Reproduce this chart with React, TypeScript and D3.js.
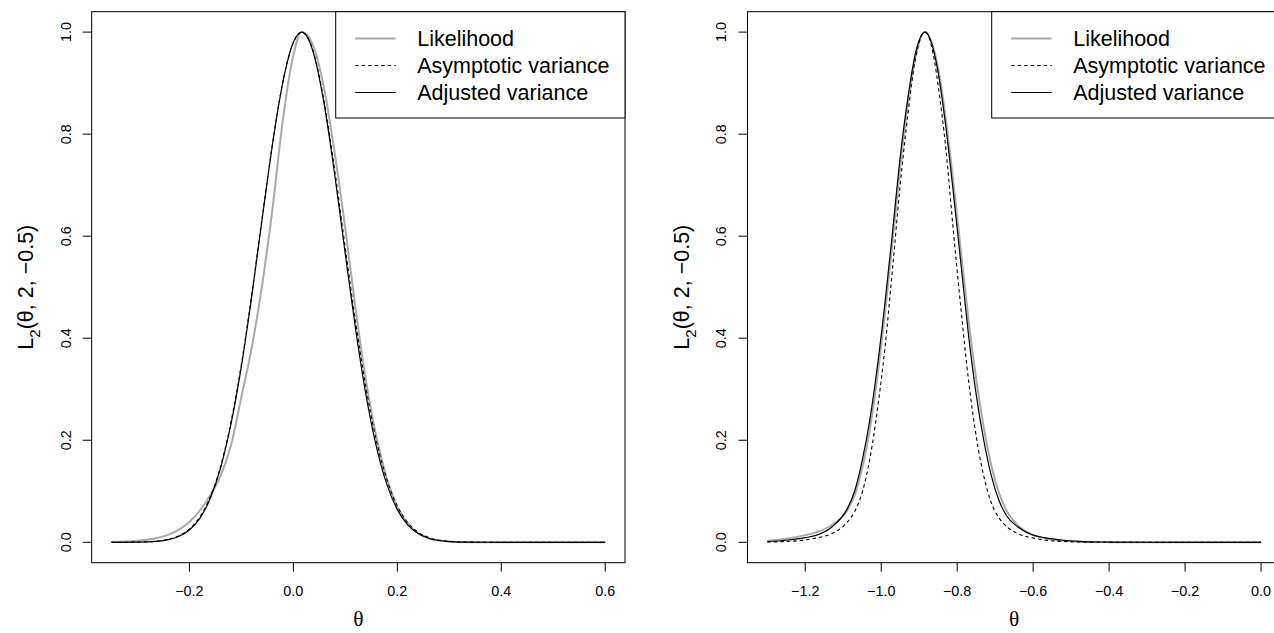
import React from "react";
import * as d3 from "d3";

// ---------- data ----------
const leftTheta = [-0.35, -0.30, -0.26, -0.24, -0.22, -0.20, -0.18, -0.16, -0.14, -0.12, -0.10, -0.08, -0.06, -0.04, -0.02, 0.00, 0.016, 0.03, 0.04, 0.06, 0.08, 0.10, 0.12, 0.14, 0.16, 0.18, 0.20, 0.22, 0.24, 0.26, 0.30, 0.34, 0.40, 0.50, 0.60];
const leftLikelihood = [0.0005, 0.003, 0.009, 0.015, 0.025, 0.040, 0.062, 0.092, 0.130, 0.190, 0.285, 0.382, 0.505, 0.655, 0.830, 0.955, 1.0, 0.990, 0.968, 0.885, 0.760, 0.615, 0.455, 0.315, 0.205, 0.125, 0.070, 0.037, 0.018, 0.008, 0.0015, 0.0003, 0, 0, 0];
const leftAsymptotic = [0.0000, 0.0004, 0.0026, 0.0060, 0.0129, 0.0261, 0.0497, 0.0889, 0.1494, 0.2357, 0.3495, 0.4868, 0.6368, 0.7827, 0.9037, 0.9802, 1.0, 0.9847, 0.9560, 0.8596, 0.7261, 0.5762, 0.4296, 0.3009, 0.1979, 0.1223, 0.0710, 0.0387, 0.0198, 0.0095, 0.0018, 0.0003, 0, 0, 0];
const leftAdjusted = [0.0000, 0.0003, 0.0022, 0.0053, 0.0117, 0.0240, 0.0470, 0.0860, 0.1460, 0.2320, 0.3450, 0.4830, 0.6340, 0.7810, 0.9030, 0.9800, 1.0, 0.9840, 0.9540, 0.8540, 0.7170, 0.5640, 0.4160, 0.2870, 0.1860, 0.1130, 0.0640, 0.0340, 0.0170, 0.0080, 0.0015, 0.0002, 0, 0, 0];

const rightTheta = [-1.30, -1.25, -1.20, -1.17, -1.13, -1.09, -1.07, -1.05, -1.03, -1.01, -0.99, -0.97, -0.95, -0.93, -0.91, -0.885, -0.86, -0.85, -0.83, -0.81, -0.79, -0.77, -0.75, -0.73, -0.71, -0.69, -0.67, -0.64, -0.60, -0.57, -0.52, -0.47, -0.40, -0.30, -0.20, -0.10, 0.00];
const rightLikelihood = [0.003, 0.007, 0.014, 0.020, 0.034, 0.062, 0.092, 0.145, 0.220, 0.325, 0.450, 0.590, 0.735, 0.860, 0.950, 1.0, 0.962, 0.930, 0.830, 0.705, 0.570, 0.435, 0.320, 0.225, 0.150, 0.097, 0.062, 0.033, 0.014, 0.008, 0.003, 0.001, 0.0003, 0, 0, 0, 0];
const rightAsymptotic = [0.0005, 0.0016, 0.0045, 0.0085, 0.017, 0.039, 0.060, 0.098, 0.163, 0.260, 0.382, 0.538, 0.700, 0.837, 0.947, 1.0, 0.945, 0.895, 0.773, 0.610, 0.457, 0.317, 0.208, 0.130, 0.077, 0.048, 0.031, 0.017, 0.0085, 0.0045, 0.0016, 0.0005, 0.0001, 0, 0, 0, 0];
const rightAdjusted = [0.0015, 0.004, 0.009, 0.014, 0.030, 0.065, 0.100, 0.160, 0.240, 0.345, 0.470, 0.610, 0.755, 0.870, 0.958, 1.0, 0.958, 0.920, 0.815, 0.685, 0.545, 0.405, 0.290, 0.200, 0.130, 0.082, 0.052, 0.030, 0.014, 0.009, 0.004, 0.0015, 0.0005, 0.0001, 0, 0, 0];

const yTicks = [0, 0.2, 0.4, 0.6, 0.8, 1.0];
const leftXTicks = [-0.2, 0.0, 0.2, 0.4, 0.6];
const rightXTicks = [-1.2, -1.0, -0.8, -0.6, -0.4, -0.2, 0.0];
const legendLabels = ["Likelihood", "Asymptotic variance", "Adjusted variance"];
const xTitle = "θ";

// ---------- styles ----------
const W = 1274;
const H = 633;
const SANS = "'Liberation Sans', Arial, Helvetica, sans-serif";
const SERIF = "'Liberation Serif', 'DejaVu Serif', serif";
const GREY = "#aaaaaa";
const seriesStyle = [
  { stroke: GREY, width: 2, dash: "" },
  { stroke: "#000", width: 1.1, dash: "3.5,3" },
  { stroke: "#000", width: 1.2, dash: "" },
];
const TICK_FONT = 14.4;
const TITLE_FONT = 21.5;

const fmt = (v: number) => v.toFixed(1).replace("-", "\u2212");

type PanelProps = {
  left: number;
  xDomain: [number, number];
  xTicks: number[];
  theta: number[];
  series: number[][];
  legendLeft: number;
  id: string;
};

function Panel({ left, xDomain, xTicks, theta, series, legendLeft, id }: PanelProps) {
  const plotW = 533.3;
  const top = 11.7;
  const bottom = 562.7;
  const ext = (xDomain[1] - xDomain[0]) * 0.04;
  const x = d3.scaleLinear().domain([xDomain[0] - ext, xDomain[1] + ext]).range([left, left + plotW]);
  const y = d3.scaleLinear().domain([-0.04, 1.04]).range([bottom, top]);
  const line = d3
    .line<number>()
    .x((_, i) => x(theta[i]))
    .y((d) => y(d))
    .curve(d3.curveMonotoneX);
  const tickLen = 9;
  const order = [0, 1, 2];
  const legendTop = top;
  const legendBottom = 118;
  const rowY = [38.5, 65.5, 92.5];
  return (
    <g>
      <defs>
        <clipPath id={id}>
          <rect x={left} y={top} width={plotW} height={bottom - top} />
        </clipPath>
      </defs>
      <g clipPath={`url(#${id})`}>
        {order.map((k) => (
          <path
            key={k}
            d={line(series[k]) || ""}
            fill="none"
            stroke={seriesStyle[k].stroke}
            strokeWidth={seriesStyle[k].width}
            strokeDasharray={seriesStyle[k].dash || undefined}
          />
        ))}
      </g>
      <rect x={left} y={top} width={plotW} height={bottom - top} fill="none" stroke="#000" strokeWidth={1} />
      {yTicks.map((t) => (
        <g key={"y" + t}>
          <line x1={left - tickLen} x2={left} y1={y(t)} y2={y(t)} stroke="#000" />
          <text
            x={left - 26}
            y={y(t)}
            transform={`rotate(-90 ${left - 26} ${y(t)})`}
            textAnchor="middle"
            dominantBaseline="central"
            fontFamily={SANS}
            fontSize={TICK_FONT}
          >
            {fmt(t)}
          </text>
        </g>
      ))}
      {xTicks.map((t) => (
        <g key={"x" + t}>
          <line x1={x(t)} x2={x(t)} y1={bottom} y2={bottom + tickLen} stroke="#000" />
          <text x={x(t)} y={bottom + 28} textAnchor="middle" dominantBaseline="central" fontFamily={SANS} fontSize={TICK_FONT}>
            {fmt(t)}
          </text>
        </g>
      ))}
      <text x={left + plotW / 2} y={619} textAnchor="middle" dominantBaseline="central" fontFamily={SERIF} fontSize={TITLE_FONT}>
        {xTitle}
      </text>
      <text
        transform={`translate(${left - 66}, ${(top + bottom) / 2}) rotate(-90)`}
        textAnchor="middle"
        dominantBaseline="central"
        fontFamily={SANS}
        fontSize={TITLE_FONT}
      >
        L<tspan baselineShift="sub" fontSize={15}>2</tspan>
        <tspan>(θ, 2, −0.5)</tspan>
      </text>
      <rect x={legendLeft} y={legendTop} width={left + plotW - legendLeft} height={legendBottom - legendTop} fill="#fff" stroke="#000" />
      {legendLabels.map((lab, k) => (
        <g key={lab}>
          <line
            x1={legendLeft + 19.5}
            x2={legendLeft + 60}
            y1={rowY[k]}
            y2={rowY[k]}
            stroke={seriesStyle[k].stroke}
            strokeWidth={seriesStyle[k].width}
            strokeDasharray={seriesStyle[k].dash || undefined}
          />
          <text x={legendLeft + 81.5} y={rowY[k]} dominantBaseline="central" fontFamily={SANS} fontSize={21.5}>
            {lab}
          </text>
        </g>
      ))}
    </g>
  );
}

export default function App() {
  return (
    <svg width={W} height={H} style={{ position: "absolute", left: 0, top: 0, background: "#fff" }}>
      <rect width={W} height={H} fill="#fff" />
      <Panel
        id="clipL"
        left={91.7}
        xDomain={[-0.35, 0.6]}
        xTicks={leftXTicks}
        theta={leftTheta}
        series={[leftLikelihood, leftAsymptotic, leftAdjusted]}
        legendLeft={335.7}
      />
      <Panel
        id="clipR"
        left={747.5}
        xDomain={[-1.3, 0.0]}
        xTicks={rightXTicks}
        theta={rightTheta}
        series={[rightLikelihood, rightAsymptotic, rightAdjusted]}
        legendLeft={991.7}
      />
    </svg>
  );
}
